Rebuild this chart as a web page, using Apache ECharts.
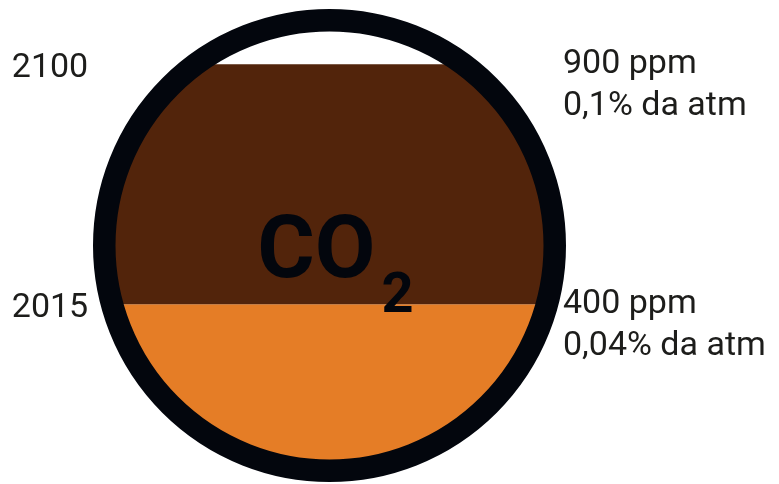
<!DOCTYPE html>
<html>
<head>
<meta charset="utf-8">
<script src="https://cdn.jsdelivr.net/npm/echarts@6/dist/echarts.min.js"></script>
<style>
html,body{margin:0;padding:0;background:#fff;}
#c{width:779px;height:484px;}
</style>
</head>
<body>
<div id="c"></div>
<script>
// ---- data ----
const levels = [400, 900];                 // ppm (fill levels)
const years = ['2015', '2100'];            // left labels
const ppmLabels = ['400 ppm', '900 ppm'];  // right labels line 1
const shareLabels = ['0,04% da atm', '0,1% da atm']; // right labels line 2
const gasName = 'CO';
const gasSub = '2';

// axis range of the vessel (ppm scale)
const yMin = 30, yMax = 1015;

const segments = levels.map((v, i) => [i === 0 ? yMin : levels[i - 1], v, i]);
const labelData = levels.map((v, i) => [v, i]);

const fillColors = ['#E57D26', '#52240B'];
const ringColor = '#03060D';
const ringWidth = 22.5;
const txtFont = 'Roboto';

function segPoly(cx, cy, r, yTop, yBot) {
  yTop = Math.max(yTop, cy - r);
  yBot = Math.min(yBot, cy + r);
  const aT = Math.asin((yTop - cy) / r), aB = Math.asin((yBot - cy) / r);
  const n = 90, pts = [];
  for (let i = 0; i <= n; i++) {
    const a = aT + (aB - aT) * i / n;
    pts.push([cx + r * Math.cos(a), cy + r * Math.sin(a)]);
  }
  for (let i = n; i >= 0; i--) {
    const a = aT + (aB - aT) * i / n;
    pts.push([cx - r * Math.cos(a), cy + r * Math.sin(a)]);
  }
  return pts;
}

function geom(api) {
  const c = api.coord([0, (yMin + yMax) / 2]);
  const R = api.size([2, 0])[0] / 2;
  return { cx: c[0], cy: c[1], R: R };
}

const chart = echarts.init(document.getElementById('c'));
chart.setOption({
  backgroundColor: '#ffffff',
  animation: false,
  grid: { left: 93, top: 9, width: 473, height: 473 },
  xAxis: { type: 'value', min: -1, max: 1, show: false },
  yAxis: { type: 'value', min: yMin, max: yMax, show: false },
  series: [
    {
      type: 'custom',
      data: segments,
      z: 1,
      clip: false,
      renderItem: function (params, api) {
        const g = geom(api);
        const lo = api.value(0), hi = api.value(1), idx = api.value(2);
        const yTop = api.coord([0, hi])[1];
        const yBot = idx === 0 ? g.cy + g.R : api.coord([0, lo])[1];
        return {
          type: 'polygon',
          shape: { points: segPoly(g.cx, g.cy, g.R - ringWidth / 2, yTop, yBot) },
          style: { fill: fillColors[idx], stroke: null }
        };
      }
    },
    {
      type: 'custom',
      data: [[0, (yMin + yMax) / 2]],
      z: 2,
      clip: false,
      renderItem: function (params, api) {
        const g = geom(api);
        return {
          type: 'group',
          children: [
            {
              type: 'circle',
              shape: { cx: g.cx, cy: g.cy, r: g.R - ringWidth / 2 },
              style: { fill: 'none', stroke: ringColor, lineWidth: ringWidth }
            },
            {
              type: 'text',
              x: g.cx + 46, y: g.cy + 9,
              style: { text: gasName, fill: ringColor, fontSize: 88, fontWeight: 'bold',
                fontFamily: 'Roboto', align: 'right', verticalAlign: 'middle' }
            },
            {
              type: 'text',
              x: g.cx + 52, y: g.cy + 52,
              style: { text: gasSub, fill: ringColor, fontSize: 56, fontWeight: 'bold',
                fontFamily: 'Roboto', align: 'left', verticalAlign: 'middle' }
            }
          ]
        };
      }
    },
    {
      type: 'custom',
      data: labelData,
      z: 3,
      clip: false,
      renderItem: function (params, api) {
        const v = api.value(0), i = api.value(1);
        const pL = api.coord([-1, v]);
        const pR = api.coord([1, v]);
        const base = { fill: '#1d1d1b', fontSize: 34, fontFamily: txtFont };
        return {
          type: 'group',
          children: [
            { type: 'text', x: pL[0] - 43, y: pL[1] + 4,
              style: Object.assign({ text: years[i], align: 'center', verticalAlign: 'middle' }, base) },
            { type: 'text', x: pR[0] - 3, y: pR[1] + 0.5,
              style: Object.assign({ text: ppmLabels[i], align: 'left', verticalAlign: 'middle' }, base) },
            { type: 'text', x: pR[0] - 3, y: pR[1] + 42.5,
              style: Object.assign({ text: shareLabels[i], align: 'left', verticalAlign: 'middle' }, base) }
          ]
        };
      }
    }
  ]
});
</script>
</body>
</html>
